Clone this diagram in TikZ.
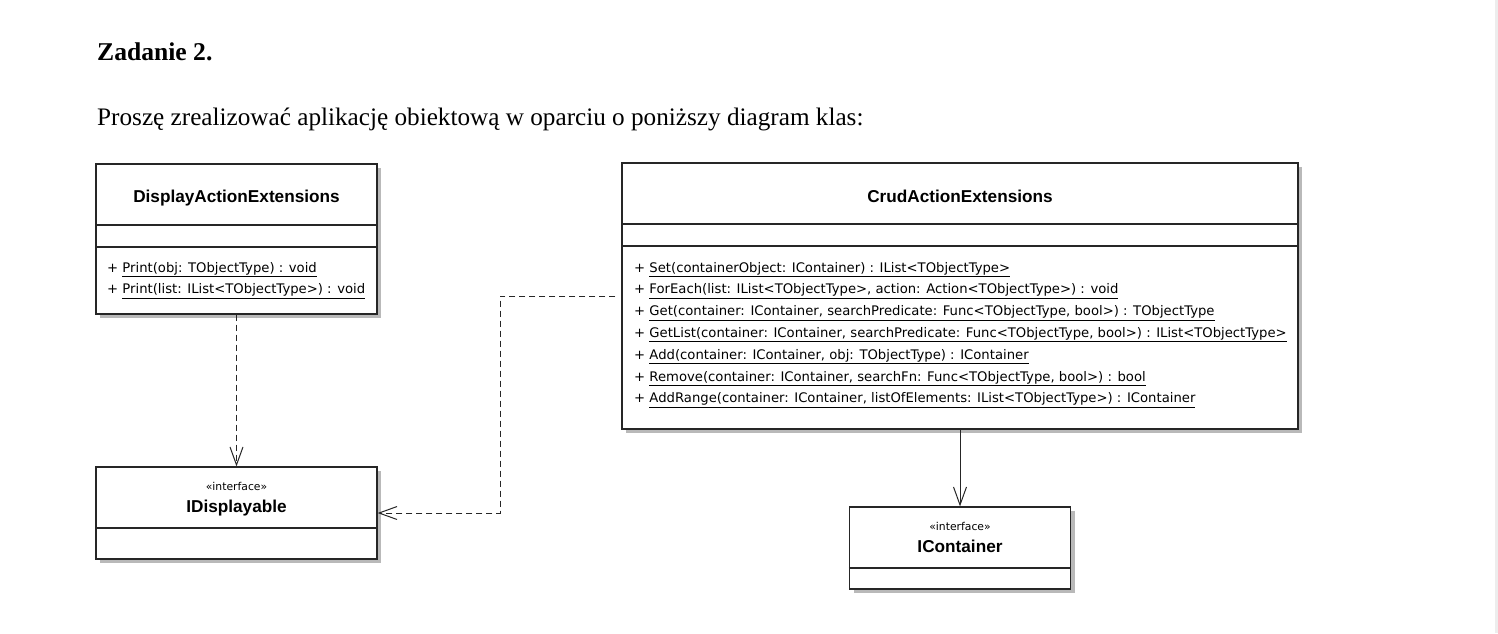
\documentclass[tikz,border=0pt]{standalone}
\usepackage{fontspec}
\setmainfont{Liberation Serif}
\newfontfamily\umltitle{Liberation Sans}
\newfontfamily\umltext{DejaVu Sans}
\usetikzlibrary{arrows.meta,shadows}
\begin{document}
\begin{tikzpicture}[x=1pt,y=-1pt,
  classbox/.style={draw=black!85, line width=1.2pt, fill=white, rectangle, inner sep=0pt,
    drop shadow={shadow xshift=4pt, shadow yshift=-4pt, fill=black!30, opacity=.9}},
  sepline/.style={draw=black!85, line width=1.2pt},
  ctitle/.style={anchor=base, inner sep=0pt, font=\umltitle\bfseries\fontsize{17.2}{20}\selectfont},
  stereo/.style={anchor=base, inner sep=0pt, font=\umltext\fontsize{10.8}{12}\selectfont},
  meth/.style={anchor=base west, inner sep=0pt, font=\umltext\fontsize{13.2}{15}\selectfont},
  dep/.style={draw=black!85, line width=1pt, dash pattern=on 6pt off 4pt, -{Straight Barb[length=18pt,width=13pt,line width=1pt]}},
  assoc/.style={draw=black!85, line width=1pt, -{Straight Barb[length=18pt,width=13pt,line width=1pt]}},
  heading/.style={anchor=base west, inner sep=0pt}
]
\useasboundingbox (0,0) rectangle (1498,633);
\fill[white] (0,0) rectangle (1498,633);
\fill[black!7] (1495,0) rectangle (1498,633);

% texts above the diagram
\node[heading, font=\bfseries\fontsize{25.6}{30}\selectfont] (zad) at (97,60) {Zadanie 2.};
\node[heading, font=\fontsize{25.2}{30}\selectfont] (intro) at (97,125) {Proszę zrealizować aplikację obiektową w oparciu o poniższy diagram klas:};

% class boxes
\node[classbox, minimum width=281pt, minimum height=150pt] (dae) at (236.5,239) {};
\node[classbox, minimum width=676pt, minimum height=266pt] (crud) at (960,296) {};
\node[classbox, minimum width=281pt, minimum height=92pt] (idisp) at (236.5,513) {};
\node[classbox, minimum width=221pt, minimum height=82pt] (icont) at (960,548) {};

% compartments
\draw[sepline] (dae.west |- 0,225) -- (dae.east |- 0,225);
\draw[sepline] (dae.west |- 0,247) -- (dae.east |- 0,247);
\draw[sepline] (crud.west |- 0,224) -- (crud.east |- 0,224);
\draw[sepline] (crud.west |- 0,246) -- (crud.east |- 0,246);
\draw[sepline] (idisp.west |- 0,528) -- (idisp.east |- 0,528);
\draw[sepline] (icont.west |- 0,568) -- (icont.east |- 0,568);

% names
\node[ctitle] (daeT) at (236.5,202) {DisplayActionExtensions};
\node[ctitle] (crudT) at (960,202) {CrudActionExtensions};
\node[stereo] (idispS) at (236.5,490) {«interface»};
\node[ctitle] (idispT) at (236.5,512) {IDisplayable};
\node[stereo] (icontS) at (960,530) {«interface»};
\node[ctitle] (icontT) at (960,552) {IContainer};

% operations
\node[meth] (d1) at (107,272) {+ \underline{Print(obj: TObjectType) : void}};
\node[meth] (d2) at (107,293.8) {+ \underline{Print(list: IList<TObjectType>) : void}};

\node[meth] (c1) at (634,272) {+ \underline{Set(containerObject: IContainer) : IList<TObjectType>}};
\node[meth] (c2) at (634,293.8) {+ \underline{ForEach(list: IList<TObjectType>, action: Action<TObjectType>) : void}};
\node[meth] (c3) at (634,315.6) {+ \underline{Get(container: IContainer, searchPredicate: Func<TObjectType, bool>) : TObjectType}};
\node[meth] (c4) at (634,337.4) {+ \underline{GetList(container: IContainer, searchPredicate: Func<TObjectType, bool>) : IList<TObjectType>}};
\node[meth] (c5) at (634,359.2) {+ \underline{Add(container: IContainer, obj: TObjectType) : IContainer}};
\node[meth] (c6) at (634,381) {+ \underline{Remove(container: IContainer, searchFn: Func<TObjectType, bool>) : bool}};
\node[meth] (c7) at (634,402.8) {+ \underline{AddRange(container: IContainer, listOfElements: IList<TObjectType>) : IContainer}};

% connectors
\coordinate (e1) at (500,296);
\coordinate (e2) at (500,513);
\draw[dep] (dae.south) -- (idisp.north);
\draw[dep, shorten <=6pt] (crud.west) -- (e1) -- (e2) -- (idisp.east);
\draw[assoc] (crud.south) -- (icont.north);
\end{tikzpicture}
\end{document}
